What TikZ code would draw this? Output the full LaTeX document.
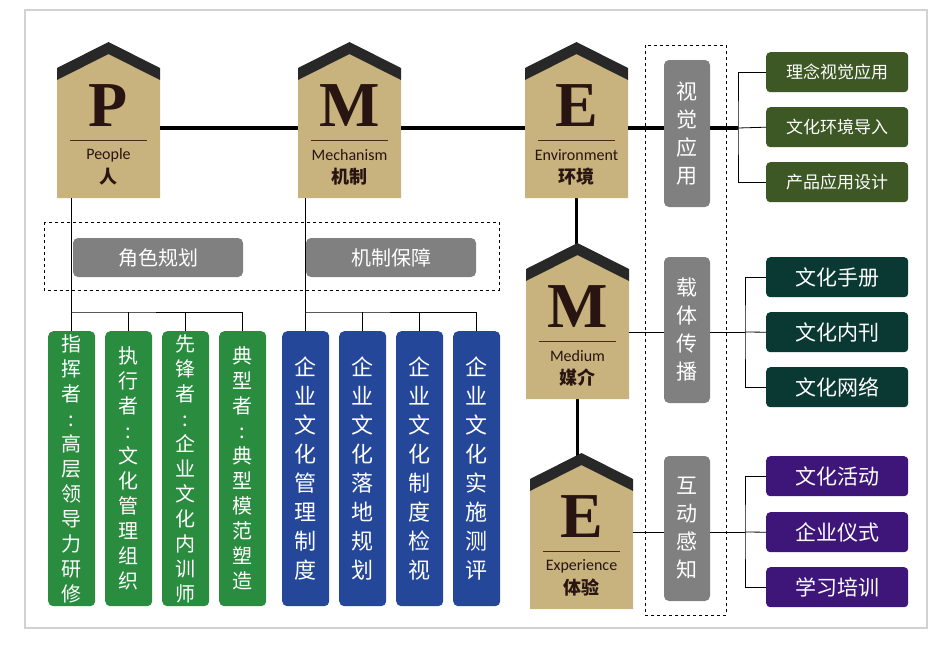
\documentclass[tikz,border=0pt]{standalone}
\usepackage{fontspec}
\setmainfont{Noto Sans CJK SC}
\newfontfamily\enf{Carlito}
\newfontfamily\letf{Liberation Serif}
\definecolor{tanc}{RGB}{200,178,126}
\definecolor{roofc}{RGB}{40,40,40}
\definecolor{brn}{RGB}{40,20,16}
\definecolor{brl}{RGB}{80,40,20}
\definecolor{olv}{RGB}{61,88,36}
\definecolor{dgr}{RGB}{10,56,50}
\definecolor{pur}{RGB}{62,22,122}
\definecolor{grn}{RGB}{42,140,62}
\definecolor{blu}{RGB}{36,71,154}
\definecolor{gbx}{RGB}{128,128,128}
\pgfdeclarelayer{bg}
\pgfsetlayers{bg,main}
\begin{document}
\begin{tikzpicture}[x=1pt,y=-1pt,
  letter/.style={font=\letf\bfseries\fontsize{64}{64}\selectfont,text=brn,inner sep=0},
  en/.style={font=\enf\fontsize{16}{16}\selectfont,text=brn,inner sep=0},
  zh/.style={font=\bfseries\fontsize{18}{18}\selectfont,text=brn,inner sep=0},
  thick line/.style={line width=3.5pt,black},
  thin line/.style={line width=0.8pt,black},
  graybox/.style={fill=gbx,rounded corners=5pt,text=white,inner sep=0},
  col/.style={rounded corners=5pt,text=white,inner sep=0,minimum width=47pt,minimum height=275pt,anchor=north west,font=\fontsize{20}{25}\selectfont,align=center},
  rbox/.style={rounded corners=4pt,text=white,inner sep=0,minimum width=142pt,minimum height=40pt,anchor=north west},
]
\useasboundingbox (0,0) rectangle (935,649);
\draw[line width=1.5pt,gray!35] (25,10) rectangle (927,628);
\newcommand\hs[6]{%
 \fill[tanc] (#1,#2+38)--(#1+51.5,#2+10)--(#1+103,#2+38)--(#1+103,#2+156)--(#1,#2+156)--cycle;
 \fill[roofc] (#1,#2+26)--(#1+51.5,#2)--(#1+103,#2+26)--(#1+103,#2+38)--(#1+51.5,#2+12)--(#1,#2+38)--cycle;
 \node[inner sep=0,minimum width=103pt,minimum height=118pt] (#3) at (#1+51.5,#2+97) {};
 \node[letter] at (#1+51.5,#2+64) {#4};
 \draw[line width=1pt,brl] (#1+13,#2+98)--(#1+90,#2+98);
 \node[en] at (#1+51.5,#2+113) {#5};
 \node[zh] at (#1+51.5,#2+135) {#6};
}
% dashed frames
\draw[dashed,line width=0.6pt] (44,222) rectangle (499,290);
\draw[dashed,line width=0.6pt] (645,45) rectangle (726,615);
% houses
\hs{57}{42}{P}{P}{People}{人}
\hs{298}{42}{M}{M}{Mechanism}{机制}
\hs{525}{42}{E}{E}{Environment}{环境}
\hs{526}{243}{Md}{M}{Medium}{媒介}
\hs{530}{453}{Ex}{E}{Experience}{体验}
% gray boxes
\node[graybox,minimum width=170pt,minimum height=39pt,font=\fontsize{20}{20}\selectfont] (g1) at (158,257.5) {角色规划};
\node[graybox,minimum width=170pt,minimum height=39pt,font=\fontsize{20}{20}\selectfont] (g2) at (391,257.5) {机制保障};
\node[graybox,minimum width=46pt,minimum height=147pt,font=\fontsize{21}{28}\selectfont,align=center] (v1) at (687,133.5) {视\\觉\\应\\用};
\node[graybox,minimum width=46pt,minimum height=146pt,font=\fontsize{21}{28}\selectfont,align=center] (v2) at (687,330) {载\\体\\传\\播};
\node[graybox,minimum width=46pt,minimum height=145pt,font=\fontsize{21}{28}\selectfont,align=center] (v3) at (687,528.5) {互\\动\\感\\知};
% connectors main
\coordinate (b1) at (738,128);
\draw[thick line] ([yshift=11pt]P.east) -- ([yshift=11pt]M.west);
\draw[thick line] ([yshift=11pt]M.east) -- ([yshift=11pt]E.west);
\draw[thick line] ([yshift=11pt]E.east) -- (v1.west |- b1);
\draw[thick line] (v1.east |- b1) -- (b1);
\begin{pgfonlayer}{bg}
\draw[thick line] (E.south) -- (E.south |- 0,250);
\draw[thick line] (Md.south) -- (Md.south |- 0,460);
\end{pgfonlayer}
% right boxes
\node[rbox,fill=olv,font=\fontsize{17}{17}\selectfont] (r1) at (766,52) {理念视觉应用};
\node[rbox,fill=olv,font=\fontsize{17}{17}\selectfont] (r2) at (766,107) {文化环境导入};
\node[rbox,fill=olv,font=\fontsize{17}{17}\selectfont] (r3) at (766,162) {产品应用设计};
\node[rbox,fill=dgr,font=\fontsize{21}{21}\selectfont] (m1) at (766,257) {文化手册};
\node[rbox,fill=dgr,font=\fontsize{21}{21}\selectfont] (m2) at (766,312) {文化内刊};
\node[rbox,fill=dgr,font=\fontsize{21}{21}\selectfont] (m3) at (766,367) {文化网络};
\node[rbox,fill=pur,font=\fontsize{21}{21}\selectfont] (e1) at (766,456) {文化活动};
\node[rbox,fill=pur,font=\fontsize{21}{21}\selectfont] (e2) at (766,512) {企业仪式};
\node[rbox,fill=pur,font=\fontsize{21}{21}\selectfont] (e3) at (766,567) {学习培训};
\draw[thin line] (r1.west) -| (b1) |- (r3.west);
\draw[thin line] (b1) -- (r2.west);
\coordinate (b2) at (745,332);
\draw[thin line] (Md.east |- b2) -- (v2.west |- b2); \draw[thin line] (v2.east |- b2) -- (b2);
\draw[thin line] (m1.west) -| (b2) |- (m3.west); \draw[thin line] (b2) -- (m2.west);
\coordinate (b3) at (745,532);
\draw[thin line] (Ex.east |- b3) -- (v3.west |- b3); \draw[thin line] (v3.east |- b3) -- (b3);
\draw[thin line] (e1.west) -| (b3) |- (e3.west); \draw[thin line] (b3) -- (e2.west);
% columns
\node[col,fill=grn] (c1) at (48,331) {指\\挥\\者\\:\\高\\层\\领\\导\\力\\研\\修};
\node[col,fill=grn] (c2) at (105,331) {执\\行\\者\\:\\文\\化\\管\\理\\组\\织};
\node[col,fill=grn] (c3) at (162,331) {先\\锋\\者\\:\\企\\业\\文\\化\\内\\训\\师};
\node[col,fill=grn] (c4) at (219,331) {典\\型\\者\\:\\典\\型\\模\\范\\塑\\造};
\node[col,fill=blu,font=\fontsize{22}{29}\selectfont] (d1) at (282,331) {企\\业\\文\\化\\管\\理\\制\\度};
\node[col,fill=blu,font=\fontsize{22}{29}\selectfont] (d2) at (339,331) {企\\业\\文\\化\\落\\地\\规\\划};
\node[col,fill=blu,font=\fontsize{22}{29}\selectfont] (d3) at (396,331) {企\\业\\文\\化\\制\\度\\检\\视};
\node[col,fill=blu,font=\fontsize{22}{29}\selectfont] (d4) at (453,331) {企\\业\\文\\化\\实\\施\\测\\评};
\coordinate (pj) at (71.5,312); \coordinate (mj) at (305.5,312);
\draw[thin line] (pj |- P.south) -- (pj);
\draw[thin line] (mj |- M.south) -- (mj);
\draw[thin line] (c1.north) |- (pj) -| (c4.north);
\draw[thin line] (c2.north) -- (c2.north |- pj); \draw[thin line] (c3.north) -- (c3.north |- pj);
\draw[thin line] (d1.north) |- (mj) -| (d4.north);
\draw[thin line] (d2.north) -- (d2.north |- mj); \draw[thin line] (d3.north) -- (d3.north |- mj);
\end{tikzpicture}
\end{document}
